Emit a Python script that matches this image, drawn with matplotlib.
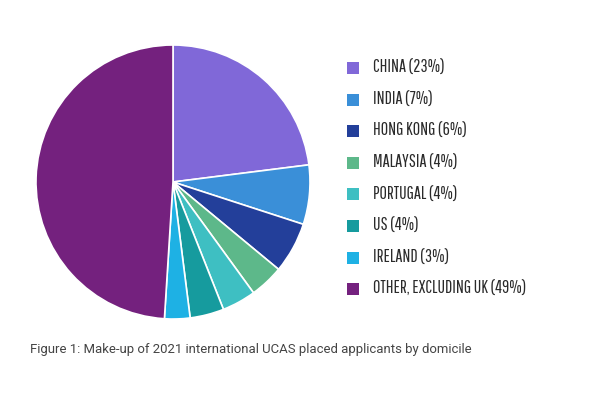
import matplotlib
matplotlib.use("Agg")
import matplotlib.pyplot as plt
from matplotlib.patches import Rectangle
from matplotlib import font_manager

categories = ["CHINA", "INDIA", "HONG KONG", "MALAYSIA", "PORTUGAL", "US", "IRELAND", "OTHER, EXCLUDING UK"]
values = [23, 7, 6, 4, 4, 4, 3, 49]
colors = ["#8068D8", "#3A8FD8", "#233F9A", "#5DB88A", "#3EBFC2", "#169B9E", "#1EB1E4", "#74217E"]
caption = "Figure 1: Make-up of 2021 international UCAS placed applicants by domicile"

names = {f.name for f in font_manager.fontManager.ttflist}
leg_family = "DejaVu Sans"
for cand in ["Pathway Gothic One", "Oswald", "Saira Condensed", "Barlow Condensed"]:
    if cand in names:
        leg_family = cand
        break

fig = plt.figure(figsize=(6, 4), dpi=100)
fig.patch.set_facecolor("white")

ax = fig.add_axes([(173 - 137) / 600, 1 - (182 + 137) / 400, 274 / 600, 274 / 400])
ax.pie(values, colors=colors, startangle=90, counterclock=False,
       wedgeprops=dict(edgecolor="white", linewidth=1.2), radius=1.0)
ax.set_xlim(-1, 1)
ax.set_ylim(-1, 1)
ax.set_aspect("auto")
ax.axis("off")

renderer = fig.canvas.get_renderer()

def fit(t, target_px):
    bb = t.get_window_extent(renderer=renderer)
    t.set_fontsize(t.get_fontsize() * target_px / bb.width)

y0 = 68
dy = 31.6
texts = []
for i, (cat, val, col) in enumerate(zip(categories, values, colors)):
    y = y0 + i * dy
    fig.patches.append(Rectangle((347 / 600, 1 - (y + 6) / 400), 12 / 600, 12 / 400,
                                 transform=fig.transFigure, facecolor=col, edgecolor="none"))
    t = fig.text(373 / 600, 1 - y / 400, f"{cat} ({val}%)", fontsize=14, family=leg_family,
                 color="#2a2a2a", va="center", ha="left")
    texts.append(t)

bb = texts[-1].get_window_extent(renderer=renderer)
scale = 154 / bb.width
for t in texts:
    t.set_fontsize(t.get_fontsize() * scale)

cap = fig.text(30 / 600, 1 - 350 / 400, caption, fontsize=10, family="Roboto", color="#444444",
               va="center", ha="left")
fit(cap, 440)

fig.savefig("out.png", dpi=100)
